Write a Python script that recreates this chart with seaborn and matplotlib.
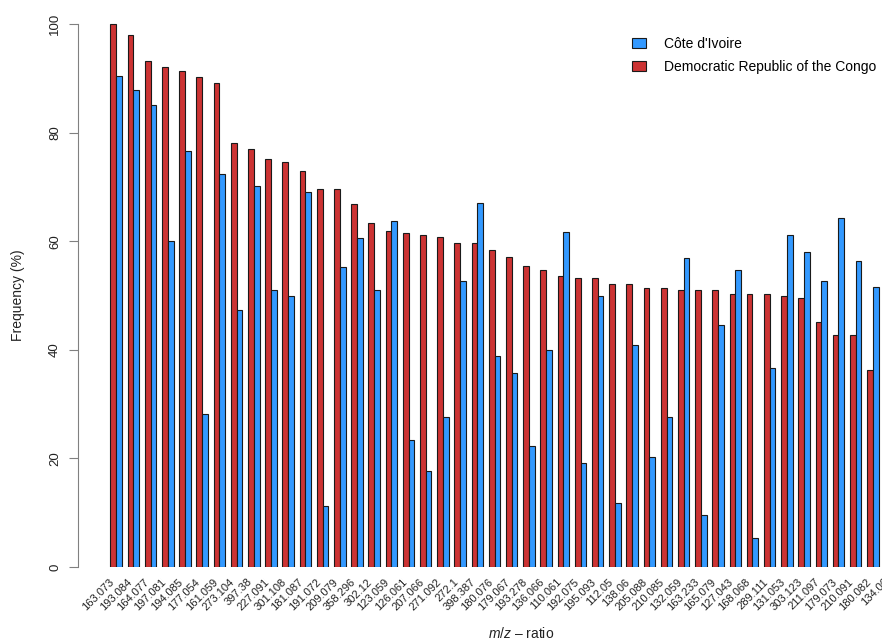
import matplotlib
matplotlib.use("Agg")
import matplotlib.pyplot as plt
import seaborn as sns
import pandas as pd

# ---- data ----
mz_labels = ["163.073", "193.084", "164.077", "197.081", "194.085", "177.054", "161.059",
             "273.104", "397.38", "227.091", "301.108", "181.087", "191.072", "209.079",
             "358.296", "302.12", "123.059", "126.061", "207.066", "271.092", "272.1",
             "398.387", "180.076", "179.067", "193.278", "136.066", "110.061", "192.075",
             "195.093", "112.05", "138.06", "205.088", "210.085", "132.059", "163.233",
             "165.079", "127.043", "168.068", "289.111", "131.053", "303.123", "211.097",
             "179.073", "210.091", "180.082", "134.06"]

drc_freq = [100.0, 97.9, 93.1, 92.1, 91.4, 90.2, 89.2, 78.0, 77.0, 75.2, 74.5, 73.0,
            69.7, 69.7, 66.9, 63.3, 61.9, 61.6, 61.1, 60.8, 59.7, 59.7, 58.3, 57.1,
            55.4, 54.7, 53.6, 53.2, 53.2, 52.1, 52.1, 51.4, 51.4, 51.0, 51.0, 51.0,
            50.3, 50.3, 50.3, 49.9, 49.6, 45.2, 42.8, 42.8, 36.3, 35.5]

civ_freq = [90.4, 87.8, 85.1, 60.1, 76.6, 28.2, 72.3, 47.4, 70.2, 51.1, 50.0, 69.1,
            11.2, 55.3, 60.6, 51.0, 63.8, 23.4, 17.6, 27.7, 52.7, 67.0, 38.8, 35.7,
            22.3, 39.9, 61.7, 19.1, 50.0, 11.7, 40.9, 20.2, 27.6, 56.9, 9.6, 44.6,
            54.7, 5.3, 36.6, 61.1, 58.0, 52.7, 64.3, 56.4, 51.6, 45.0]

countries = ["Democratic Republic of the Congo", "Côte d'Ivoire"]
colors = {"Democratic Republic of the Congo": "#CC3333", "Côte d'Ivoire": "#3399FF"}

df = pd.DataFrame({
    "mz": mz_labels * 2,
    "freq": drc_freq + civ_freq,
    "country": [countries[0]] * len(mz_labels) + [countries[1]] * len(mz_labels),
})

# ---- style ----
plt.rcParams["font.family"] = ["Liberation Sans", "DejaVu Sans"]
plt.rcParams["mathtext.fontset"] = "custom"
plt.rcParams["mathtext.it"] = "Liberation Sans:italic"
plt.rcParams["mathtext.rm"] = "Liberation Sans"

W, H = 882, 642
fig = plt.figure(figsize=(W / 100, H / 100), dpi=100)
left_px, right_px, bottom_px, top_px = 77.7, 964.0, 567.0, 18.57
ax = fig.add_axes([left_px / W, (H - bottom_px) / H,
                   (right_px - left_px) / W, (bottom_px - top_px) / H])

sns.barplot(data=df, x="mz", y="freq", hue="country", order=mz_labels,
            hue_order=countries, palette=colors, width=2 / 3,
            edgecolor="#1a1a1a", linewidth=0.8, saturation=1, ax=ax)

ax.set_xlim(-2.24, 49.3)
ax.set_ylim(0, 101)

for s in ["top", "right", "bottom"]:
    ax.spines[s].set_visible(False)
ax.spines["left"].set_bounds(0, 100)
ax.spines["left"].set_color("#808080")
ax.spines["left"].set_linewidth(0.8)

ax.set_yticks([0, 20, 40, 60, 80, 100])
ax.set_yticklabels(["0", "20", "40", "60", "80", "100"], rotation=90, va="center")
ax.tick_params(axis="y", length=6.5, width=0.8, color="#808080", labelsize=9.5,
               pad=5.5, labelcolor="#222222")

ax.set_xticks(range(len(mz_labels)))
ax.set_xticklabels(mz_labels, rotation=45, ha="right", va="top")
ax.tick_params(axis="x", length=0, labelsize=8, pad=7, labelcolor="#222222")

ax.set_xlabel(r"$\mathit{m/z}$ – ratio", fontsize=10, color="#222222")
ax.xaxis.set_label_coords(521 / W, (H - 626) / H, transform=fig.transFigure)
ax.set_ylabel("Frequency (%)", fontsize=10, color="#222222")
ax.yaxis.set_label_coords(25 / W, (H - 295.5) / H, transform=fig.transFigure)

handles, labels = ax.get_legend_handles_labels()
order = [labels.index("Côte d'Ivoire"), labels.index("Democratic Republic of the Congo")]
if ax.get_legend() is not None:
    ax.get_legend().remove()
fig.legend([handles[i] for i in order], [labels[i] for i in order],
           loc="upper left", bbox_to_anchor=(632 / W, (H - 37) / H),
           frameon=False, fontsize=10, handlelength=1.0, handleheight=0.75,
           handletextpad=1.3, labelspacing=0.65, borderpad=0, borderaxespad=0)

fig.savefig("out.png", dpi=100)
